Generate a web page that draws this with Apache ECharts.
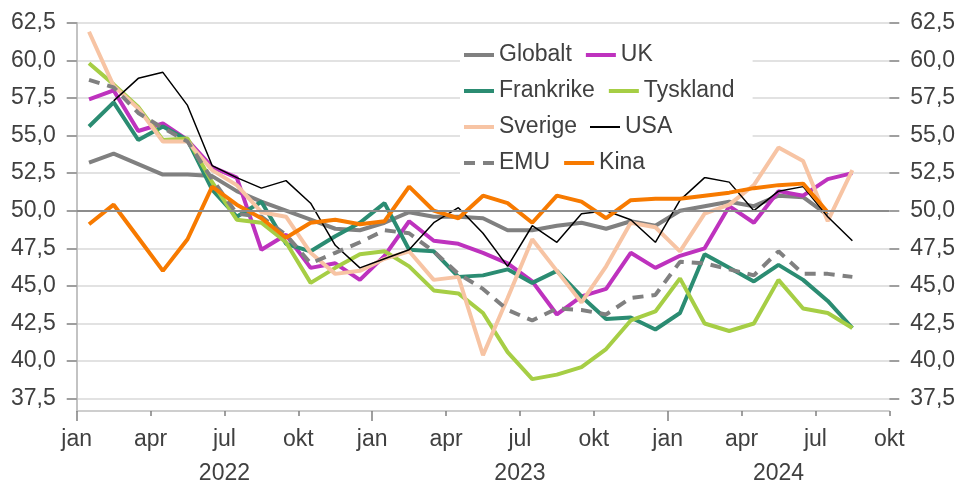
<!DOCTYPE html>
<html>
<head>
<meta charset="utf-8">
<script src="https://cdn.jsdelivr.net/npm/echarts@6/dist/echarts.min.js"></script>
<style>
html, body { margin: 0; padding: 0; background: #fff; }
#chart { width: 960px; height: 485px; }
</style>
</head>
<body>
<div id="chart"></div>
<script>
// PMI industri, månedlig jan 2022 - aug 2024
const monthNames = ['jan', 'apr', 'jul', 'okt'];
const yearNames = ['2022', '2023', '2024'];
const yearPos = [6, 18, 28.5]; // midt i hvert år på aksen (måneder fra jan 2022)

const globalt = [53.2, 53.8, 53.1, 52.4, 52.4, 52.3, 51.3, 50.6, 50.0, 49.4, 48.8, 48.7,
  49.2, 49.9, 49.6, 49.6, 49.5, 48.7, 48.7, 49.0, 49.2, 48.8, 49.3, 49.0,
  50.0, 50.3, 50.6, 50.3, 51.0, 50.9, 49.7, null];
const uk = [57.4, 58.0, 55.3, 55.8, 54.7, 52.9, 52.2, 47.4, 48.4, 46.2, 46.5, 45.4,
  47.0, 49.3, 48.0, 47.8, 47.2, 46.5, 45.3, 43.1, 44.3, 44.8, 47.2, 46.2,
  47.0, 47.5, 50.3, 49.2, 51.3, 51.0, 52.1, 52.5];
const frankrike = [55.6, 57.2, 54.7, 55.6, 54.7, 51.4, 49.6, 50.6, 47.8, 47.3, 48.3, 49.2,
  50.5, 47.4, 47.3, 45.6, 45.7, 46.1, 45.2, 46.0, 44.3, 42.8, 42.9, 42.1,
  43.2, 47.1, 46.2, 45.3, 46.4, 45.4, 44.0, 42.2];
const tyskland = [59.8, 58.4, 56.9, 54.7, 54.8, 51.9, 49.4, 49.2, 47.9, 45.2, 46.2, 47.1,
  47.3, 46.3, 44.7, 44.5, 43.2, 40.6, 38.8, 39.1, 39.6, 40.8, 42.7, 43.3,
  45.5, 42.5, 42.0, 42.5, 45.4, 43.5, 43.2, 42.2];
const sverige = [61.9, 58.3, 56.8, 54.6, 54.6, 52.7, 51.7, 49.9, 49.6, 47.2, 45.8, 46.0,
  46.8, 47.3, 45.4, 45.6, 40.4, 44.2, 48.1, 46.0, 43.9, 46.3, 49.2, 48.9,
  47.3, 49.8, 50.4, 51.7, 54.2, 53.3, 49.3, 52.7];
const usa = [null, 57.3, 58.8, 59.2, 57.0, 53.0, 52.2, 51.5, 52.0, 50.5, 47.7, 46.2,
  46.8, 47.4, 49.2, 50.2, 48.5, 46.3, 49.0, 47.9, 49.8, 50.0, 49.4, 47.9,
  50.7, 52.2, 51.9, 50.0, 51.3, 51.6, 49.6, 48.0];
const emu = [58.7, 58.2, 56.5, 55.5, 54.6, 52.1, 49.8, 49.6, 48.4, 46.5, 47.2, 47.9,
  48.7, 48.5, 47.3, 45.8, 44.8, 43.4, 42.7, 43.5, 43.4, 43.1, 44.2, 44.4,
  46.6, 46.5, 46.1, 45.7, 47.3, 45.8, 45.8, 45.6];
const kina = [49.1, 50.4, 48.2, 46.0, 48.1, 51.6, 50.4, 49.5, 48.2, 49.2, 49.4, 49.1,
  49.3, 51.6, 50.0, 49.5, 51.0, 50.5, 49.2, 51.0, 50.6, 49.5, 50.7, 50.8,
  50.8, 51.0, 51.2, 51.5, 51.7, 51.8, 49.9, null];

const font = "'Liberation Sans', Arial, sans-serif";
const fs = 23;
const txt = '#404040';
const axisGrey = '#bfbfbf';

// punkt midt i måneden
function toPoints(arr) {
  return arr.map(function (v, i) { return [i + 0.5, v]; });
}

function line(name, data, color, width, type) {
  return {
    name: name,
    type: 'line',
    xAxisIndex: 0,
    yAxisIndex: 0,
    data: toPoints(data),
    symbol: 'none',
    connectNulls: false,
    itemStyle: { color: color },
    lineStyle: { color: color, width: width, type: type || 'solid' }
  };
}

let chart = echarts.init(document.getElementById('chart'));

let option = {
  animation: false,
  textStyle: { fontFamily: font },
  grid: [
    { left: 76.7, right: 70.7, top: 22.7, bottom: 86.3 }, // dataområdet
    { left: 76.7, right: 70.7, top: 22.7, bottom: 72 }    // ramme med x-akse
  ],
  legend: {
    data: ['Globalt', 'UK', 'Frankrike', 'Tyskland', 'Sverige',
      { name: 'USA', lineStyle: { width: 2 } }, 'EMU', 'Kina'],
    left: 460,
    top: 38,
    width: 280,
    itemWidth: 30,
    itemHeight: 14,
    itemGap: 12,
    padding: [5, 18, 2, 2],
    backgroundColor: '#fff',
    itemStyle: { opacity: 0 },
    lineStyle: { width: 4 },
    textStyle: { fontSize: fs, color: txt, fontFamily: font, lineHeight: 24 }
  },
  xAxis: [
    { gridIndex: 0, type: 'value', min: 0, max: 33, show: false },
    {
      gridIndex: 1, type: 'value', position: 'bottom', min: 0, max: 33, interval: 3,
      axisLine: { show: true, lineStyle: { color: axisGrey, width: 1.5 } },
      axisTick: { show: true, length: 5, lineStyle: { color: '#808080', width: 1.5 } },
      splitLine: { show: false },
      axisLabel: {
        fontSize: fs, color: txt, margin: 17, fontFamily: font,
        formatter: function (v) { return monthNames[Math.round(v / 3) % 4]; }
      }
    },
    {
      gridIndex: 1, type: 'value', position: 'bottom', min: 0, max: 33,
      axisLine: { show: false },
      axisTick: { show: true, length: 10, customValues: [0, 12, 24], lineStyle: { color: '#808080', width: 1.5 } },
      axisLabel: { show: false },
      splitLine: { show: false }
    },
    {
      gridIndex: 1, type: 'value', position: 'bottom', min: 0, max: 33, interval: 1.5,
      axisLine: { show: false },
      axisTick: { show: false },
      splitLine: { show: false },
      axisLabel: {
        fontSize: fs, color: txt, margin: 51, fontFamily: font,
        formatter: function (v) {
          let k = yearPos.indexOf(v);
          return k >= 0 ? yearNames[k] : '';
        }
      }
    }
  ],
  yAxis: [
    {
      gridIndex: 0, type: 'value', position: 'left', min: 37.5, max: 62.5, interval: 2.5,
      axisLine: { show: false },
      axisTick: { show: true, length: 10, lineStyle: { color: '#808080', width: 1.5 } },
      splitLine: { show: true, lineStyle: { color: '#d9d9d9', width: 1.5 } },
      axisLabel: {
        fontSize: fs, color: txt, margin: 21, fontFamily: font,
        formatter: function (v) { return v.toFixed(1).replace('.', ','); }
      }
    },
    {
      gridIndex: 0, type: 'value', position: 'right', min: 37.5, max: 62.5, interval: 2.5,
      axisLine: { show: false },
      axisTick: { show: true, length: 10, lineStyle: { color: '#808080', width: 1.5 } },
      splitLine: { show: false },
      axisLabel: {
        fontSize: fs, color: txt, margin: 21, fontFamily: font,
        formatter: function (v) { return v.toFixed(1).replace('.', ','); }
      }
    },
    {
      gridIndex: 1, type: 'value', position: 'left', min: 0, max: 1,
      axisLine: { show: true, lineStyle: { color: axisGrey, width: 1.5 } },
      axisTick: { show: false }, axisLabel: { show: false }, splitLine: { show: false }
    },
    {
      gridIndex: 1, type: 'value', position: 'right', min: 0, max: 1,
      axisLine: { show: true, lineStyle: { color: axisGrey, width: 1.5 } },
      axisTick: { show: false }, axisLabel: { show: false }, splitLine: { show: false }
    }
  ],
  series: [
    {
      // 50-linja
      type: 'line', xAxisIndex: 0, yAxisIndex: 0, data: [], symbol: 'none',
      markLine: {
        silent: true, symbol: 'none', label: { show: false },
        lineStyle: { color: '#8c8c8c', width: 2, type: 'solid' },
        data: [{ yAxis: 50 }]
      }
    },
    line('Globalt', globalt, '#808080', 4),
    line('UK', uk, '#be32be', 4),
    line('Frankrike', frankrike, '#2b8c72', 4),
    line('Tyskland', tyskland, '#a6ce45', 4),
    line('Sverige', sverige, '#f7c4a4', 4),
    line('USA', usa, '#000000', 1.5),
    line('EMU', emu, '#808080', 4, [11, 8]),
    line('Kina', kina, '#f77a00', 4)
  ]
};

chart.setOption(option);
</script>
</body>
</html>
